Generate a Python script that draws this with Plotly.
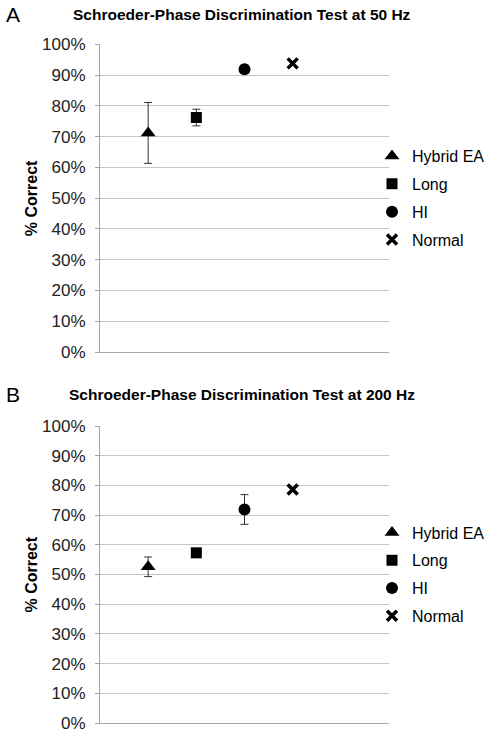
import plotly.graph_objects as go

groups = ["Hybrid EA", "Long", "HI", "Normal"]
symbols = ["triangle-up", "square", "circle", "x-thin"]
sizes = [13, 11, 12, 10]

# Panel A: 50 Hz
a_mean = [71.2, 76.2, 91.9, 93.8]
a_err = [9.9, 2.7, 1.3, 0.0]
# Panel B: 200 Hz
b_mean = [52.6, 57.3, 71.9, 78.6]
b_err = [3.3, 0.0, 5.0, 0.0]

yticks = list(range(0, 101, 10))
ytick_text = [f"{v}%" for v in yticks]

W, H = 491, 736
FONT = "Liberation Sans, Arial, sans-serif"

def px_x(p):
    return p / W

def px_y(p):
    return 1 - p / H

fig = go.Figure()

panels = [
    dict(mean=a_mean, err=a_err, xa="x", ya="y", legend="legend",
         top=44.3, bottom=352.0,
         title="Schroeder-Phase Discrimination Test at 50 Hz", letter="A", ty=15),
    dict(mean=b_mean, err=b_err, xa="x2", ya="y2", legend="legend2",
         top=426.0, bottom=723.0,
         title="Schroeder-Phase Discrimination Test at 200 Hz", letter="B", ty=394),
]

for pi, p in enumerate(panels):
    for i, g in enumerate(groups):
        is_x = symbols[i].startswith("x")
        marker = dict(symbol=symbols[i], size=sizes[i], color="black",
                      line=dict(color="black", width=3.5 if is_x else 0))
        fig.add_trace(go.Scatter(
            x=[i + 1], y=[p["mean"][i]],
            mode="markers", name=g, marker=marker,
            error_y=dict(type="data", array=[p["err"][i]], visible=p["err"][i] > 0,
                         color="#333333", thickness=1, width=4),
            xaxis=p["xa"], yaxis=p["ya"], legend=p["legend"],
            legendgroup=f"{pi}-{g}",
        ))

layout = dict(
    width=W, height=H,
    margin=dict(l=0, r=0, t=0, b=0, autoexpand=False),
    paper_bgcolor="white", plot_bgcolor="white",
    font=dict(family=FONT, color="#222222", size=16),
    annotations=[],
)

x_dom = [px_x(100), px_x(389)]
for pi, p in enumerate(panels):
    sfx = "" if pi == 0 else "2"
    layout["xaxis" + sfx] = dict(
        domain=x_dom, range=[0, 6], showticklabels=False, ticks="",
        showgrid=False, zeroline=False, showline=True, linecolor="#a6a6a6",
        linewidth=1, fixedrange=True,
        anchor="y" + sfx,
    )
    layout["yaxis" + sfx] = dict(
        domain=[px_y(p["bottom"]), px_y(p["top"])], range=[0, 100],
        tickvals=yticks, ticktext=ytick_text,
        showgrid=True, gridcolor="#c6c6c6", gridwidth=1,
        zeroline=False, showline=True, linecolor="#a6a6a6", linewidth=1,
        ticks="outside", ticklen=4, tickcolor="#a6a6a6",
        ticklabelstandoff=6,
        tickfont=dict(size=17, color="#222222", family=FONT),
        anchor="x" + sfx,
    )
    mid = (p["top"] + p["bottom"]) / 2
    layout["legend" if pi == 0 else "legend2"] = dict(
        x=px_x(372), xanchor="left", y=px_y(mid), yanchor="middle",
        font=dict(size=16, color="black", family=FONT),
        tracegroupgap=4, bgcolor="rgba(0,0,0,0)",
    )
    layout["annotations"] += [
        dict(text=f"<b>{p['title']}</b>", x=px_x(242), y=px_y(p["ty"]),
             xref="paper", yref="paper", showarrow=False,
             xanchor="center", yanchor="middle",
             font=dict(size=15.5, color="black", family=FONT)),
        dict(text=p["letter"], x=px_x(13), y=px_y(p["ty"]),
             xref="paper", yref="paper", showarrow=False,
             xanchor="center", yanchor="middle",
             font=dict(size=21, color="black", family=FONT)),
        dict(text="<b>% Correct</b>", x=px_x(31), y=px_y(mid),
             xref="paper", yref="paper", showarrow=False, textangle=-90,
             xanchor="center", yanchor="middle",
             font=dict(size=16, color="black", family=FONT)),
    ]

fig.update_layout(**layout)
fig.write_html(
    "out.html",
    config={"displayModeBar": False},
    post_script="document.body.style.margin='0';document.body.style.overflow='hidden';",
)
